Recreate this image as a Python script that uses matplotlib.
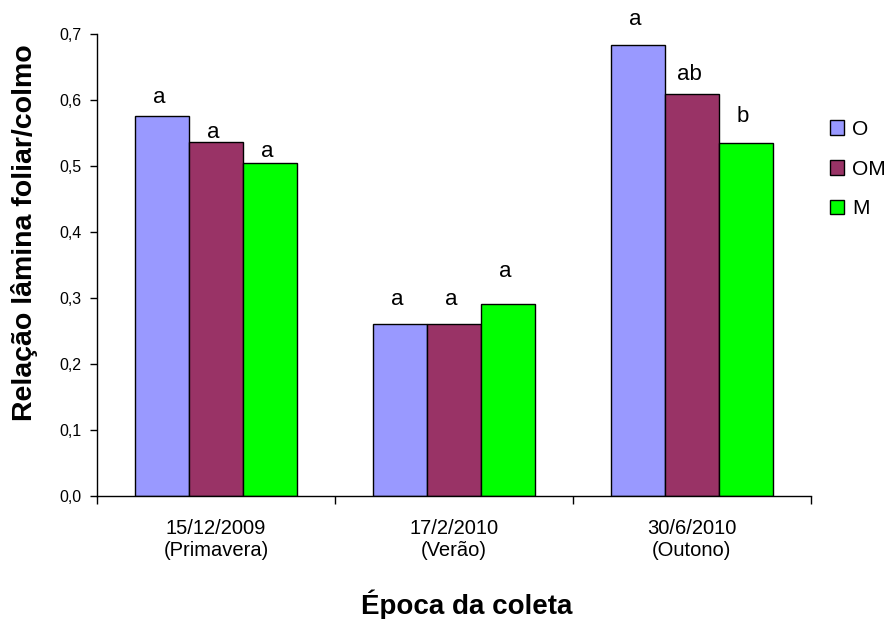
import matplotlib
matplotlib.use("Agg")
import matplotlib.pyplot as plt
import numpy as np

# data
categories = ["15/12/2009\n(Primavera)", "17/2/2010\n(Verão)", "30/6/2010\n(Outono)"]
series_names = ["O", "OM", "M"]
values_O = [0.576, 0.261, 0.683]
values_OM = [0.536, 0.261, 0.609]
values_M = [0.505, 0.291, 0.535]
letters_O = ["a", "a", "a"]
letters_OM = ["a", "a", "ab"]
letters_M = ["a", "a", "b"]
yticks = [0.0, 0.1, 0.2, 0.3, 0.4, 0.5, 0.6, 0.7]

# gap between bar top and the letter baseline (points) - letters were hand placed
gap_O = [9.4, 13.7, 14.4]
gap_OM = [2.9, 13.7, 10.0]
gap_M = [4.3, 19.4, 15.1]

colors = ["#9999FF", "#993366", "#00FF00"]

plt.rcParams['font.family'] = ['Liberation Sans', 'DejaVu Sans']

fig = plt.figure(figsize=(8.89, 6.19), dpi=100)
ax = fig.add_axes([0.109, 0.199, 0.803, 0.746])

x = np.arange(len(categories))
width = 0.227
all_vals = [values_O, values_OM, values_M]
all_letters = [letters_O, letters_OM, letters_M]
all_gaps = [gap_O, gap_OM, gap_M]

for i, (name, vals, letters, gaps) in enumerate(zip(series_names, all_vals, all_letters, all_gaps)):
    pos = x + (i - 1) * width
    ax.bar(pos, vals, width, color=colors[i], edgecolor='black',
           linewidth=1.0, label=name)
    for xp, v, lab, g in zip(pos, vals, letters, gaps):
        ax.annotate(lab, (xp, v), xytext=(-2, g), textcoords='offset points',
                    ha='center', va='baseline', fontsize=16, clip_on=False)

ax.set_xlim(-0.5, len(categories) - 0.5)
ax.set_ylim(0, 0.7)
ax.set_yticks(yticks)
ax.set_yticklabels([f"{t:.1f}".replace('.', ',') for t in yticks], fontsize=11.5)

# category labels centred, ticks at category boundaries
ax.set_xticks(x)
ax.set_xticklabels(categories, fontsize=14.5, linespacing=1.15)
ax.tick_params(axis='x', length=0, pad=17)
ax.set_xticks(np.arange(len(categories) + 1) - 0.5, minor=True)
ax.tick_params(axis='x', which='minor', length=6, width=1, direction='out')
ax.tick_params(axis='y', length=5, width=1, direction='out', pad=6)

for s in ['top', 'right']:
    ax.spines[s].set_visible(False)
ax.spines['left'].set_linewidth(1.0)
ax.spines['bottom'].set_linewidth(1.0)

ax.set_ylabel("Relação lâmina foliar/colmo", fontsize=20.5, fontweight='bold', va='center')
ax.yaxis.set_label_coords(-0.102, 0.571)
ax.set_xlabel("Época da coleta", fontsize=20, fontweight='bold', va='center')
ax.xaxis.set_label_coords(0.518, -0.236)

ax.legend(loc='upper left', bbox_to_anchor=(1.0, 0.855), frameon=False,
          fontsize=15, handlelength=0.7, handleheight=0.7,
          labelspacing=1.0, handletextpad=0.4)

fig.savefig("out.png", dpi=100, facecolor='white')
